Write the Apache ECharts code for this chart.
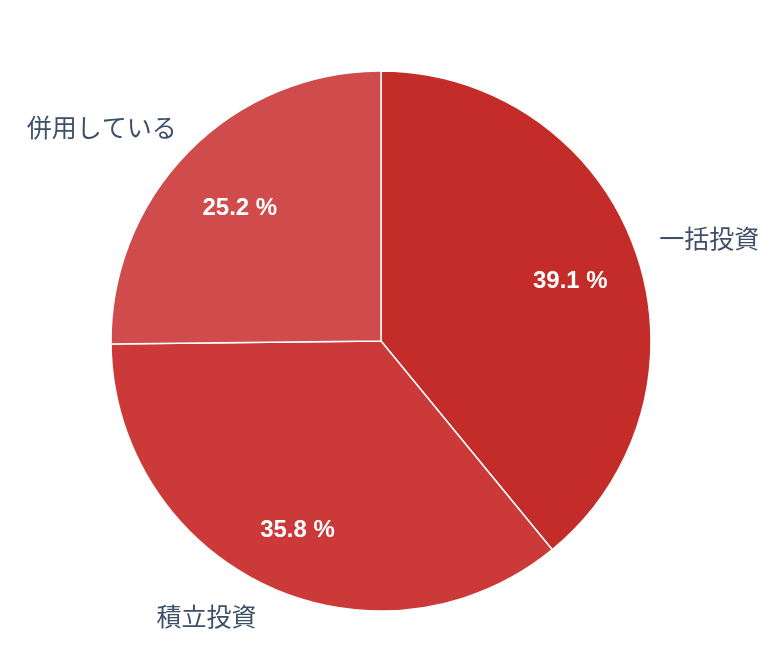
<!DOCTYPE html>
<html><head><meta charset="utf-8">
<script src="https://cdn.jsdelivr.net/npm/echarts@6/dist/echarts.min.js"></script>
<style>html,body{margin:0;padding:0;background:#fff}#c{width:770px;height:662px}</style>
</head><body><div id="c"></div>
<script>
const categories = ['一括投資', '積立投資', '併用している'];
const values = [39.1, 35.8, 25.2];
const colors = ['#c32c28', '#cb3a38', '#d04c4c'];
const labelGaps = [-8, -4, -12];

const chart = echarts.init(document.getElementById('c'));
const data = categories.map((n, i) => ({
  name: n, value: values[i], itemStyle: { color: colors[i] },
  label: { distanceToLabelLine: labelGaps[i] }
}));
const center = [381, 341];
chart.setOption({
  animation: false,
  series: [
    {
      type: 'pie', center: center, radius: [0, 270], startAngle: 90, clockwise: true,
      data: data,
      itemStyle: { borderColor: '#ffffff', borderWidth: 1.5 },
      label: {
        show: true, position: 'outside', formatter: '{b}',
        fontFamily: 'Noto Sans CJK JP', fontSize: 25, color: '#3e5069'
      },
      labelLine: { show: false, length: 34, length2: 0 },
      emphasis: { disabled: true }
    },
    {
      type: 'pie', center: center, radius: [124, 270], startAngle: 90, clockwise: true, silent: true,
      data: categories.map((n, i) => ({ name: n, value: values[i] })),
      itemStyle: { color: 'rgba(0,0,0,0)', borderWidth: 0 },
      label: {
        show: true, position: 'inside', offset: [1, 8],
        formatter: p => p.value.toFixed(1) + ' %',
        fontFamily: 'Liberation Sans', fontWeight: 'bold', fontSize: 24, color: '#ffffff'
      },
      labelLine: { show: false },
      emphasis: { disabled: true }
    }
  ]
});
</script></body></html>
